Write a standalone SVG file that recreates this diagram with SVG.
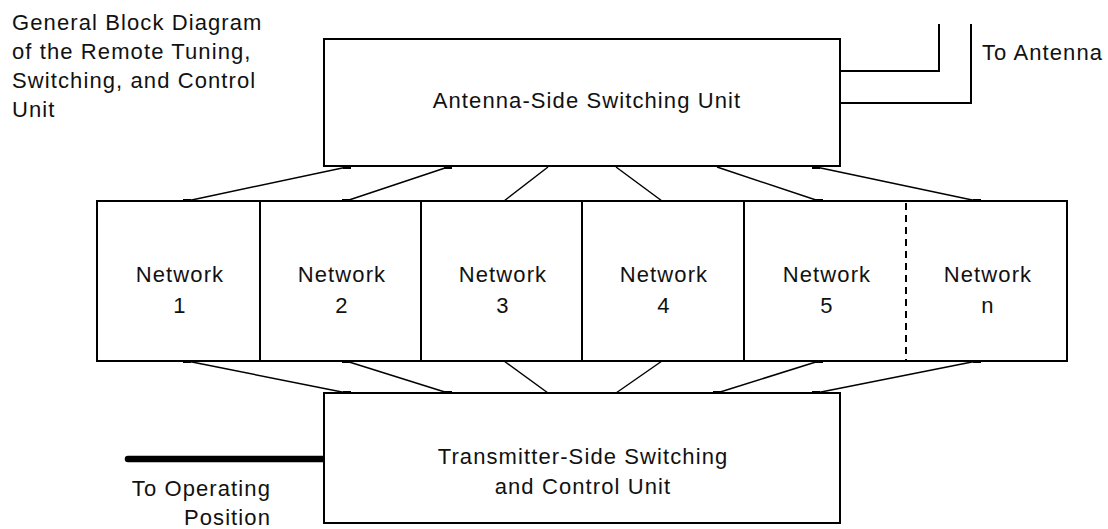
<svg xmlns="http://www.w3.org/2000/svg" width="1108" height="529" viewBox="0 0 1108 529">
<style>
  .box { fill: #fff; stroke: #000; stroke-width: 2; }
  .div { stroke: #000; stroke-width: 2; fill: none; }
  .dash { stroke: #000; stroke-width: 2; stroke-dasharray: 7 5; fill: none; }
  .conn { stroke: #000; stroke-width: 1.5; fill: none; }
  .lead { stroke: #000; stroke-width: 2; fill: none; }
  .thick { stroke: #000; stroke-width: 6.5; stroke-linecap: round; fill: none; }
  .mk { fill: #000; }
  text { font-family: "Liberation Sans", Arial, sans-serif; font-size: 22px; letter-spacing: 1.1px; fill: #111; }
  .c { text-anchor: middle; }
  .e { text-anchor: end; }
</style>
<rect width="1108" height="529" fill="#fff"/>

<g id="title">
  <text x="12" y="30">General Block Diagram</text>
  <text x="12" y="59">of the Remote Tuning,</text>
  <text x="12" y="88">Switching, and Control</text>
  <text x="12" y="117">Unit</text>
</g>

<g id="connectors">
  <!-- antenna unit to networks -->
  <line class="conn" x1="347" y1="167" x2="187" y2="201"/>
  <line class="conn" x1="448" y1="167" x2="346" y2="201"/>
  <line class="conn" x1="548" y1="167" x2="504" y2="201"/>
  <line class="conn" x1="616" y1="167" x2="662" y2="201"/>
  <line class="conn" x1="717" y1="167" x2="819" y2="201"/>
  <line class="conn" x1="816" y1="167" x2="977" y2="201"/>
  <!-- networks to transmitter unit -->
  <line class="conn" x1="187" y1="361" x2="347" y2="393"/>
  <line class="conn" x1="346" y1="361" x2="448" y2="393"/>
  <line class="conn" x1="504" y1="361" x2="548" y2="393"/>
  <line class="conn" x1="662" y1="361" x2="616" y2="393"/>
  <line class="conn" x1="819" y1="361" x2="717" y2="393"/>
  <line class="conn" x1="977" y1="361" x2="816" y2="393"/>
  <!-- end marks -->
  <rect class="mk" x="343" y="167" width="8" height="2"/>
  <rect class="mk" x="444" y="167" width="8" height="2"/>
  <rect class="mk" x="812" y="167" width="8" height="2"/>
  <rect class="mk" x="183" y="199" width="8" height="2"/>
  <rect class="mk" x="342" y="199" width="8" height="2"/>
  <rect class="mk" x="815" y="199" width="8" height="2"/>
  <rect class="mk" x="973" y="199" width="8" height="2"/>
  <rect class="mk" x="183" y="361" width="8" height="2"/>
  <rect class="mk" x="342" y="361" width="8" height="2"/>
  <rect class="mk" x="815" y="361" width="8" height="2"/>
  <rect class="mk" x="973" y="361" width="8" height="2"/>
  <rect class="mk" x="343" y="391" width="8" height="2"/>
  <rect class="mk" x="444" y="391" width="8" height="2"/>
  <rect class="mk" x="713" y="391" width="8" height="2"/>
  <rect class="mk" x="812" y="391" width="8" height="2"/>
  <!-- antenna leads -->
  <polyline class="lead" points="840,71 939,71 939,24"/>
  <polyline class="lead" points="840,103 971,103 971,24"/>
  <!-- operating position lead -->
  <line class="thick" x1="128" y1="459" x2="324" y2="459"/>
</g>

<g id="antenna-side-unit">
  <rect class="box" x="324" y="39" width="516" height="127"/>
  <text class="c" x="587" y="108">Antenna-Side Switching Unit</text>
</g>

<g id="to-antenna">
  <text x="982" y="60">To Antenna</text>
</g>

<g id="networks">
  <rect class="box" x="97" y="201" width="970" height="160"/>
  <g id="network-1">
    <text class="c" x="180" y="282">Network</text>
    <text class="c" x="180" y="313">1</text>
  </g>
  <line class="div" x1="260" y1="201" x2="260" y2="361"/>
  <g id="network-2">
    <text class="c" x="342" y="282">Network</text>
    <text class="c" x="342" y="313">2</text>
  </g>
  <line class="div" x1="421" y1="201" x2="421" y2="361"/>
  <g id="network-3">
    <text class="c" x="503" y="282">Network</text>
    <text class="c" x="503" y="313">3</text>
  </g>
  <line class="div" x1="582" y1="201" x2="582" y2="361"/>
  <g id="network-4">
    <text class="c" x="664" y="282">Network</text>
    <text class="c" x="664" y="313">4</text>
  </g>
  <line class="div" x1="744" y1="201" x2="744" y2="361"/>
  <g id="network-5">
    <text class="c" x="827" y="282">Network</text>
    <text class="c" x="827" y="313">5</text>
  </g>
  <line class="dash" x1="906" y1="203" x2="906" y2="361"/>
  <g id="network-n">
    <text class="c" x="988" y="282">Network</text>
    <text class="c" x="988" y="313">n</text>
  </g>
</g>

<g id="transmitter-side-unit">
  <rect class="box" x="324" y="393" width="516" height="130"/>
  <text class="c" x="583" y="464">Transmitter-Side Switching</text>
  <text class="c" x="583" y="494">and Control Unit</text>
</g>

<g id="to-operating-position">
  <text class="e" x="271" y="496">To Operating</text>
  <text class="e" x="271" y="525">Position</text>
</g>
</svg>
